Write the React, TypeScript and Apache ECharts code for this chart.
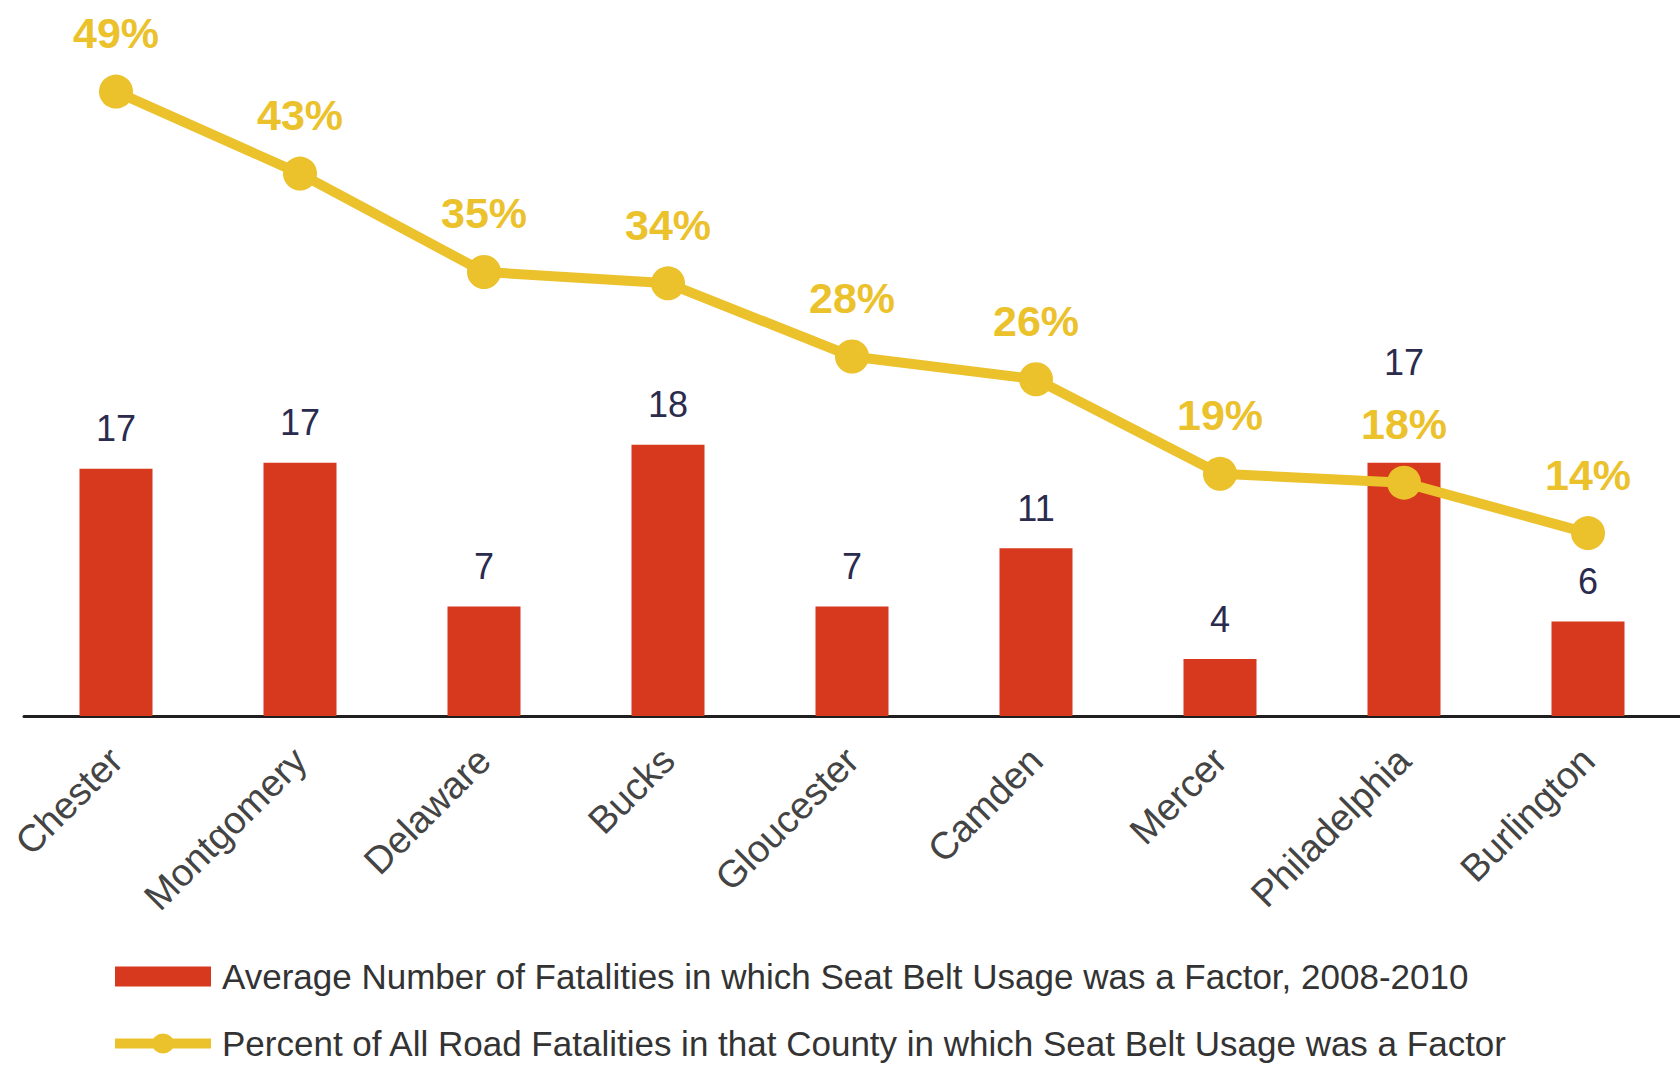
import React, { useEffect, useRef } from "react";
import * as echarts from "echarts";

const counties = [
  "Chester",
  "Montgomery",
  "Delaware",
  "Bucks",
  "Gloucester",
  "Camden",
  "Mercer",
  "Philadelphia",
  "Burlington",
];

// Average number of fatalities in which seat belt usage was a factor, 2008-2010
const fatalities = [16.5, 16.9, 7.3, 18.1, 7.3, 11.2, 3.8, 16.9, 6.3];

// Percent of all road fatalities in that county in which seat belt usage was a factor
const percentShare = [49, 42.5, 34.7, 33.8, 28.0, 26.2, 18.7, 18.0, 14.0];

const barName =
  "Average Number of Fatalities in which Seat Belt Usage was a Factor, 2008-2010";
const lineName =
  "Percent of All Road Fatalities in that County in which Seat Belt Usage was a Factor";

const RED = "#D6391D";
const GOLD = "#EBC12C";
const FONT = "'Liberation Sans', Arial, sans-serif";

// legend icon for the line series: thick line with a dot in the middle (96 x 20 box)
const LINE_ICON =
  "path://M0,5H96V15H0Z M37,10A11,10 0 1,1 59,10A11,10 0 1,1 37,10Z";

const legendText = {
  fontFamily: FONT,
  fontSize: 35,
  color: "#333333",
  padding: [0, 0, 0, 6],
};

export default function App() {
  const ref = useRef<HTMLDivElement>(null);

  useEffect(() => {
    document.body.style.margin = "0";
    if (!ref.current) return;
    const chart = echarts.init(ref.current, null, { renderer: "svg" });

    const barData = fatalities.map((v, i) =>
      counties[i] === "Philadelphia"
        ? { value: v, label: { distance: 82 } }
        : { value: v }
    );

    chart.setOption({
      animation: false,
      backgroundColor: "#ffffff",
      textStyle: { fontFamily: FONT },
      grid: { left: 24, right: 0, top: 79, bottom: 350, containLabel: false },
      legend: [
        {
          left: 110,
          top: 954,
          itemWidth: 96,
          itemHeight: 20,
          textStyle: legendText,
          data: [{ name: barName, icon: "rect" }],
        },
        {
          left: 110,
          top: 1021,
          itemWidth: 96,
          itemHeight: 20,
          textStyle: legendText,
          data: [{ name: lineName, icon: LINE_ICON }],
        },
      ],
      xAxis: {
        type: "category",
        data: counties,
        axisLine: { show: true, lineStyle: { color: "#1f1f1f", width: 3 } },
        axisTick: { show: false },
        axisLabel: {
          interval: 0,
          rotate: 45,
          fontSize: 38,
          color: "#444444",
          margin: 38,
          fontFamily: FONT,
        },
      },
      yAxis: [
        {
          type: "value",
          min: 0,
          max: 42.5,
          show: false,
          splitLine: { show: false },
        },
        {
          type: "value",
          min: -0.5,
          max: 50,
          show: false,
          splitLine: { show: false },
        },
      ],
      series: [
        {
          name: barName,
          type: "bar",
          yAxisIndex: 0,
          barWidth: 73,
          itemStyle: { color: RED },
          data: barData,
          label: {
            show: true,
            position: "top",
            distance: 22,
            fontSize: 36,
            color: "#2B2B4E",
            fontFamily: FONT,
            formatter: (p: any) => String(Math.round(p.value)),
          },
          z: 2,
        },
        {
          name: lineName,
          type: "line",
          yAxisIndex: 1,
          data: percentShare,
          symbol: "circle",
          symbolSize: 34,
          lineStyle: { color: GOLD, width: 10 },
          itemStyle: { color: GOLD },
          label: {
            show: true,
            position: "top",
            distance: 20,
            fontSize: 43,
            fontWeight: "bold",
            color: GOLD,
            fontFamily: FONT,
            formatter: (p: any) => Math.round(p.value) + "%",
          },
          z: 3,
        },
      ],
    });

    return () => chart.dispose();
  }, []);

  return (
    <div
      ref={ref}
      style={{ position: "absolute", left: 0, top: 0, width: 1680, height: 1066 }}
    />
  );
}
